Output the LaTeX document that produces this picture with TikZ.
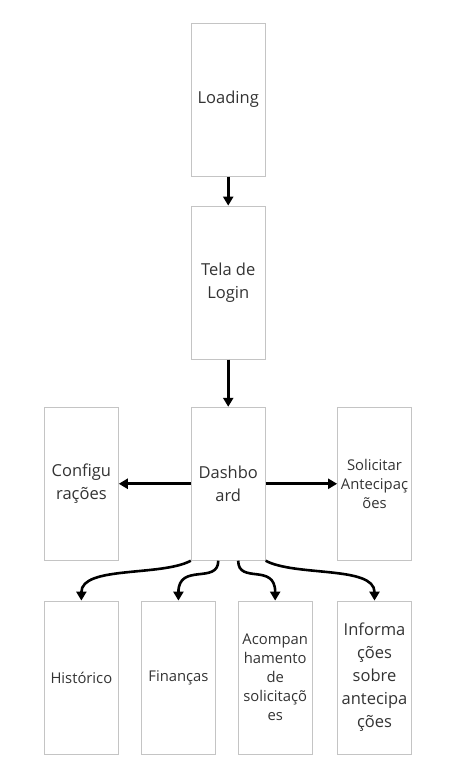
\documentclass[tikz,border=0pt]{standalone}
\usepackage{fontspec}
\setmainfont{Open Sans}
\usepackage{xcolor}
\usepackage{tikz}
\usetikzlibrary{arrows.meta}
\definecolor{boxgray}{HTML}{C4C4C4}
\definecolor{textgray}{HTML}{333333}

\begin{document}
\begin{tikzpicture}[
		tela/.style={draw=boxgray, line width=0.8pt, minimum width=2.60cm, minimum height=5.38cm, inner sep=0pt, text=textgray, align=center},
		grande/.style={font=\fontsize{16.5}{23}\selectfont},
		pequena/.style={font=\fontsize{14.8}{19}\selectfont},
		seta/.style={draw=black, line width=2.6pt, -{Triangle[length=9pt,width=10pt]}}
	]
		\useasboundingbox (0.00,0.00) rectangle (16.10,27.55);
		\node[tela, grande] (loading) at (8.02,24.05) {Loading};
		\node[tela, grande] (login) at (8.02,17.62) {Tela de\\Login};
		\node[tela, grande] (dash) at (8.02,10.55) {Dashbo\\ard};
		\node[tela, grande] (config) at (2.86,10.55) {Configu\\rações};
		\node[tela, pequena] (solic) at (13.16,10.55) {Solicitar\\Antecipaç\\ões};
		\node[tela, pequena] (hist) at (2.86,3.74) {Histórico};
		\node[tela, pequena] (fin) at (6.27,3.74) {Finanças};
		\node[tela, pequena] (acomp) at (9.67,3.74) {Acompan\\hamento\\de\\solicitaçõ\\es};
		\node[tela, grande] (info) at (13.16,3.74) {Informa\\ções\\sobre\\antecipa\\ções};
		\draw[seta] (loading.south) -- (login.north);
		\draw[seta] (login.south) -- (dash.north);
		\draw[seta] (dash.west) -- (config.east);
		\draw[seta] (dash.east) -- (solic.west);
		\draw[seta] (dash.south west) .. controls +(-1.05,-0.56) and +(0.00,1.23) .. (hist.north);
		\draw[seta] ([xshift=-0.35cm]dash.south) .. controls +(0.00,-0.84) and +(0.00,1.34) .. (fin.north);
		\draw[seta] ([xshift=0.35cm]dash.south) .. controls +(0.00,-0.84) and +(0.00,1.34) .. (acomp.north);
		\draw[seta] (dash.south east) .. controls +(1.05,-0.56) and +(0.00,1.23) .. (info.north);
	\end{tikzpicture}
\end{document}
